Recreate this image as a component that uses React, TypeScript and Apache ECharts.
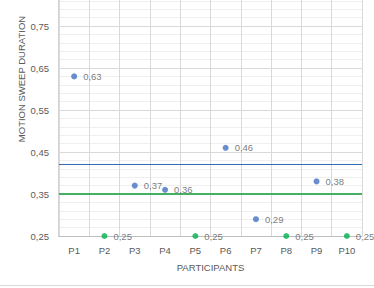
import React, { useEffect, useRef } from "react";
import * as echarts from "echarts";

const participants = ["P1", "P2", "P3", "P4", "P5", "P6", "P7", "P8", "P9", "P10"];
const blueParticipants = ["P1", "P3", "P4", "P6", "P7", "P9"];
const blueValues = [0.63, 0.37, 0.36, 0.46, 0.29, 0.38];
const greenParticipants = ["P2", "P5", "P8", "P10"];
const greenValues = [0.25, 0.25, 0.25, 0.25];
const blueReference = 0.42;
const greenReference = 0.35;
const yMin = 0.25;
const yMax = 0.85;
const yStep = 0.1;

const FONT = "Liberation Sans";
const TEXT = "#595959";
// The plot's top edge sits above the visible area, so the canvas is shifted up.
const SHIFT = 16;
const fmt = (v: number) => v.toFixed(2).replace(".", ",");

export default function App() {
  const ref = useRef<HTMLDivElement>(null);

  useEffect(() => {
    if (!ref.current) return;
    const chart = echarts.init(ref.current, null, { renderer: "svg" });
    const label = {
      show: true,
      position: "right",
      distance: 6,
      color: TEXT,
      fontFamily: FONT,
      fontSize: 9.5,
      formatter: (p: any) => fmt(p.value[1]),
    };
    chart.setOption({
      animation: false,
      backgroundColor: "#ffffff",
      grid: { left: 59, right: 12, top: 0, bottom: 52 },
      xAxis: {
        type: "category",
        data: participants,
        boundaryGap: true,
        axisLine: { show: true, lineStyle: { color: "#bfbfbf", width: 1 } },
        axisTick: { show: false },
        axisLabel: { color: TEXT, fontFamily: FONT, fontSize: 9.5, margin: 9, interval: 0 },
        splitLine: { show: true, interval: 0, lineStyle: { color: "#d9d9d9", width: 1 } },
        z: 3,
      },
      yAxis: {
        type: "value",
        min: yMin,
        max: yMax,
        interval: yStep,
        axisLine: { show: true, lineStyle: { color: "#d4d4d4", width: 2 } },
        axisTick: { show: false },
        axisLabel: {
          color: TEXT,
          fontFamily: FONT,
          fontSize: 9.5,
          margin: 10,
          showMaxLabel: false,
          formatter: (v: number) => fmt(v),
        },
        splitLine: { show: true, lineStyle: { color: "#d9d9d9", width: 1 } },
        minorTick: { show: false, splitNumber: 5 },
        minorSplitLine: { show: true, lineStyle: { color: "#efefef", width: 1 } },
      },
      series: [
        {
          type: "scatter",
          data: blueParticipants.map((p, i) => [p, blueValues[i]]),
          symbolSize: 6,
          itemStyle: { color: "#4472c4" },
          label,
          z: 5,
          markLine: {
            silent: true,
            symbol: "none",
            label: { show: false },
            lineStyle: { color: "#2e6db4", width: 1.2, type: "solid" },
            data: [{ yAxis: blueReference }],
          },
        },
        {
          type: "scatter",
          data: greenParticipants.map((p, i) => [p, greenValues[i]]),
          symbolSize: 6,
          itemStyle: { color: "#00b050" },
          label,
          z: 5,
          markLine: {
            silent: true,
            symbol: "none",
            label: { show: false },
            lineStyle: { color: "#45b065", width: 2, type: "solid" },
            data: [{ yAxis: greenReference }],
          },
        },
      ],
      graphic: [
        {
          type: "text",
          x: 21,
          y: 79 + SHIFT,
          rotation: Math.PI / 2,
          style: {
            text: "MOTION SWEEP DURATION",
            fill: TEXT,
            font: `9.5px "${FONT}"`,
            textAlign: "center",
            textVerticalAlign: "middle",
          },
        },
        {
          type: "text",
          x: 210.5,
          y: 267 + SHIFT,
          style: {
            text: "PARTICIPANTS",
            fill: TEXT,
            font: `9.5px "${FONT}"`,
            textAlign: "center",
            textVerticalAlign: "middle",
          },
        },
        {
          type: "line",
          shape: { x1: 0, y1: 285.5 + SHIFT, x2: 374, y2: 285.5 + SHIFT },
          style: { stroke: "#d9d9d9", lineWidth: 1 },
        },
      ],
    });
    return () => chart.dispose();
  }, []);

  return (
    <div
      ref={ref}
      style={{ position: "absolute", left: 0, top: -SHIFT, width: 374, height: 288 + SHIFT }}
    />
  );
}
